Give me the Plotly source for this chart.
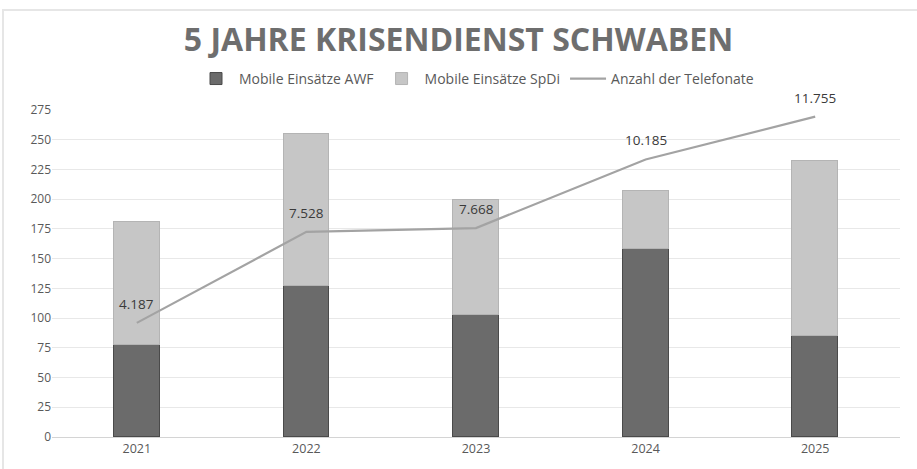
import plotly.graph_objects as go

years = ["2021", "2022", "2023", "2024", "2025"]
awf = [77, 127, 103, 158, 85]
spdi = [104, 128, 96, 49, 147]
calls = [4187, 7528, 7668, 10185, 11755]
call_labels = ["4.187", "7.528", "7.668", "10.185", "11.755"]
y_ticks = [0, 25, 50, 75, 100, 125, 150, 175, 200, 225, 250, 275]

FONT = "Open Sans, sans-serif"

fig = go.Figure()
fig.add_trace(go.Bar(
    x=years, y=awf, name="Mobile Einsätze AWF",
    marker=dict(color="#6b6b6b", line=dict(color="#4a4a4a", width=1)),
    width=0.27,
))
fig.add_trace(go.Bar(
    x=years, y=spdi, name="Mobile Einsätze SpDi",
    marker=dict(color="#c6c6c6", line=dict(color="#b4b4b4", width=1)),
    width=0.27,
))
fig.add_trace(go.Scatter(
    x=years, y=calls, name="Anzahl der Telefonate", yaxis="y2",
    mode="lines", line=dict(color="#a3a3a3", width=2.2), cliponaxis=False,
))

# data labels of the line (category index on the category axis)
for i, (c, lab) in enumerate(zip(calls, call_labels)):
    fig.add_annotation(
        x=i, y=c, xref="x", yref="y2", text=lab, showarrow=False,
        yshift=19, font=dict(family=FONT, size=13.5, color="#3a3a3a"),
    )

fig.update_layout(
    width=917, height=469,
    paper_bgcolor="white", plot_bgcolor="white",
    barmode="stack",
    margin=dict(l=52, r=17, t=110, b=32),
    title=dict(
        text="<b>5 JAHRE KRISENDIENST SCHWABEN</b>",
        x=0.5, xanchor="center", y=1 - 40 / 469, yanchor="middle",
        font=dict(family=FONT, size=32, color="#6e6e6e"),
    ),
    legend=dict(
        orientation="h", x=0.5, xanchor="center", y=1.095, yanchor="middle",
        font=dict(family=FONT, size=14, color="#595959"),
        traceorder="normal", itemwidth=36,
    ),
    xaxis=dict(
        type="category", categoryorder="array", categoryarray=years,
        range=[-0.5, len(years) - 0.5],
        showgrid=False, showline=True, linecolor="#d4d4d4", linewidth=1,
        ticks="", tickfont=dict(family=FONT, size=12.5, color="#595959"),
    ),
    yaxis=dict(
        range=[0, 275], tickvals=y_ticks, showgrid=True, gridcolor="#e8e8e8",
        zeroline=False, showline=False, ticks="",
        tickfont=dict(family=FONT, size=12, color="#595959"),
    ),
    yaxis2=dict(range=[0, 12000], overlaying="y", visible=False),
    bargap=0.0,
    shapes=[dict(type="rect", xref="paper", yref="paper",
                 x0=-49 / 848, x1=1 + 30 / 848, y0=-40 / 327, y1=1 + 100 / 327,
                 line=dict(color="#e6e6e6", width=2), layer="below")],
)

fig.write_html("out.html", post_script="document.body.style.margin='0';",
               config={"displayModeBar": False})
